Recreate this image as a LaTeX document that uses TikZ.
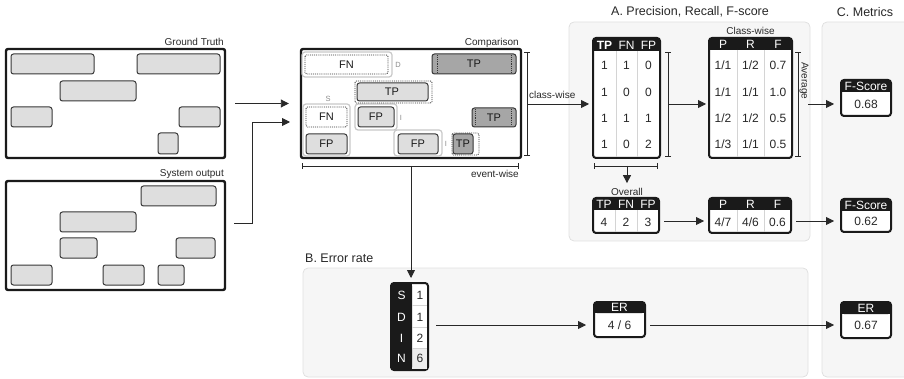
\documentclass[tikz,border=0pt]{standalone}
\usepackage{fontspec}
\setmainfont{Liberation Sans}
\usepackage{tikz}
\usetikzlibrary{arrows.meta,positioning,calc}
\definecolor{FrameBlack}{RGB}{26,26,26}
\definecolor{EventGray}{RGB}{222,222,222}
\definecolor{TPGray}{RGB}{166,166,166}
\definecolor{EdgeGray}{RGB}{55,55,55}
\definecolor{GroupGray}{RGB}{200,200,200}
\definecolor{PanelFill}{RGB}{246,246,246}
\definecolor{PanelLine}{RGB}{224,224,224}
\definecolor{TextGray}{RGB}{40,40,40}
\definecolor{SoftGray}{RGB}{140,140,140}
\definecolor{RuleGray}{RGB}{212,212,212}
\definecolor{CellGray}{RGB}{238,238,238}
\tikzset{
  frame/.style={draw=FrameBlack, line width=2.4pt, rounded corners=2pt, fill=white, inner sep=0pt},
  ev/.style={draw=EdgeGray, line width=1pt, fill=EventGray, rounded corners=2.5pt},
  evtp/.style={ev, fill=TPGray},
  evmiss/.style={draw=EdgeGray, line width=0.9pt, densely dotted, rounded corners=1.5pt},
  grp/.style={draw=GroupGray, line width=1.2pt, rounded corners=3pt, fill=white},
  panel/.style={draw=PanelLine, line width=0.8pt, fill=PanelFill, rounded corners=5pt},
  tab/.style={draw=FrameBlack, line width=2pt, rounded corners=3pt, fill=white, inner sep=0pt},
  rule/.style={draw=RuleGray, line width=0.8pt},
  arr/.style={-{Triangle[length=8pt,width=8pt]}, line width=0.9pt, draw=TextGray},
  brk/.style={{Bar[width=6pt]}-{Bar[width=6pt]}, line width=0.8pt, draw=TextGray},
  lbl/.style={font=\fontsize{10}{12}\selectfont, text=TextGray, inner sep=0pt},
  ttl/.style={font=\fontsize{12.5}{15}\selectfont, text=TextGray, inner sep=0pt},
  evtxt/.style={font=\fontsize{11}{13}\selectfont, text=FrameBlack, inner sep=0pt},
  tick/.style={font=\fontsize{7.5}{9}\selectfont, text=SoftGray, inner sep=0pt},
  head/.style={font=\fontsize{12}{14}\selectfont, text=white, inner sep=0pt},
  val/.style={font=\fontsize{12}{14}\selectfont, text=TextGray, inner sep=0pt},
}
\begin{document}
\begin{tikzpicture}[x=1pt,y=-1pt]
\useasboundingbox (0,0) rectangle (904,379);
% panels
\path[panel] (569,22) rectangle (810,241);
\path[panel] (303,268) rectangle (808,377);
\path[panel] (822,22) rectangle (914,377);
\node[ttl] (ttlA) at (690,12) {A. Precision, Recall, F-score};
\node[ttl, anchor=west] (ttlB) at (305,258) {B. Error rate};
\node[ttl] (ttlC) at (865,12) {C. Metrics};

% ground truth / system output
\node[frame, minimum width=219pt, minimum height=109pt] (gt) at (115.5,103.5) {};
\node[lbl, anchor=base east] (gtname) at (224,46) {Ground Truth};
\foreach \xa/\ya/\xb/\yb in {11/54/94/74, 137/54/220/74, 60/81/136/101, 11/107/52/127, 179/107/220/127, 158/133/178/154}
  \draw[ev] (\xa,\ya) rectangle (\xb,\yb);
\node[frame, minimum width=219pt, minimum height=109pt] (sys) at (115.5,235.5) {};
\node[lbl, anchor=base east] (sysname) at (224,177) {System output};
\foreach \xa/\ya/\xb/\yb in {141/186/216/206, 60/212/136/232, 60/238/97/258, 176/238/215/258, 11/265/52/285, 103/265/144/285, 158/265/184/285}
  \draw[ev] (\xa,\ya) rectangle (\xb,\yb);

% comparison
\node[frame, minimum width=220pt, minimum height=109pt] (cmp) at (411,103.5) {};
\node[lbl, anchor=base east] (cmpname) at (519,46) {Comparison};
\path[grp] (302,52) rectangle (392,77);
\path[grp] (303,104) rectangle (350,156);
\path[grp] (355,104) rectangle (397,130);
\path[grp] (394,130) rectangle (442,156);
\draw[evmiss, fill=white] (305,55) rectangle (388,74);
\node[evtxt] (fn1) at (346.5,64.5) {FN};
\draw[evtp] (432,54) rectangle (516,74);
\draw[evmiss] (437,55) -- (437,73) (511,55) -- (511,73);
\node[evtxt] (tp1) at (474,64) {TP};
\draw[ev] (357,83) rectangle (428,101);
\draw[evmiss] (355,81) rectangle (432,103);
\node[evtxt] (tp2) at (392,92) {TP};
\draw[evmiss, fill=white] (306,107) rectangle (347,127);
\node[evtxt] (fn2) at (326.5,117) {FN};
\draw[ev] (306,134) rectangle (347,154);
\node[evtxt] (fp1) at (326.5,144) {FP};
\draw[ev] (358,107) rectangle (394,127);
\node[evtxt] (fp2) at (376,117) {FP};
\draw[evtp] (472,108) rectangle (516,127);
\draw[evmiss] (475,109) -- (475,126) (511,109) -- (511,126);
\node[evtxt] (tp3) at (494,117.5) {TP};
\draw[ev] (398,134) rectangle (438,154);
\node[evtxt] (fp3) at (418,144) {FP};
\draw[evtp] (453,134) rectangle (473,154);
\draw[evmiss] (452,133) rectangle (479,155);
\node[evtxt] (tp4) at (463,144) {TP};
\node[tick] (tkD) at (398,65) {D};
\node[tick] (tkS) at (328,99) {S};
\node[tick] (tkI1) at (401,118) {I};
\node[tick] (tkI2) at (446,144) {I};

\draw[arr] ([xshift=9pt]gt.east) -- ([xshift=-11pt]cmp.west |- gt.east);
\coordinate (sysout) at (234,223);
\coordinate (cmpin) at (290,122);
\draw[arr] (sysout) -- ++(18,0) |- (cmpin);

\draw[brk] (527,52) -- (527,156);
\draw[brk] (302,166) -- (519,166);
\node[lbl, anchor=east] (ew) at (519,174) {event-wise};
\node[lbl, anchor=west] (cw) at (529,95) {class-wise};
\coordinate (cwfrom) at (527,104);
\coordinate (ewmid) at (411,166);

% A: class-wise counts
\node[tab, minimum width=67pt, minimum height=120pt] (cnt) at (626.5,98) {};
\fill[FrameBlack, rounded corners=3pt] (593,38) rectangle (660,51);
\fill[FrameBlack] (593,45) rectangle (660,51);
\draw[rule] (616,51) -- (616,157) (637,51) -- (637,157);
\node[head, font=\fontsize{12}{14}\selectfont\bfseries] (cnt-h1) at (604.5,45) {TP};
\node[head] (cnt-h2) at (626.5,45) {FN};
\node[head] (cnt-h3) at (648.5,45) {FP};
\foreach \yy/\a/\b/\c [count=\r] in {65/1/1/0, 92/1/0/0, 118/1/1/1, 144/1/0/2} {
  \node[val] (cnt-\r-1) at (604.5,\yy) {\a};
  \node[val] (cnt-\r-2) at (626.5,\yy) {\b};
  \node[val] (cnt-\r-3) at (648.5,\yy) {\c};
}
\draw[arr] (cwfrom) -- ([xshift=-3pt]cnt.west |- cwfrom);
\draw[brk] (668,52) -- (668,157);
\coordinate (cntout) at (668,104);

% A: class-wise P R F
\node[tab, minimum width=83pt, minimum height=120pt] (cls) at (750.5,98) {};
\fill[FrameBlack, rounded corners=3pt] (709,38) rectangle (792,50);
\fill[FrameBlack] (709,44) rectangle (792,50);
\draw[rule] (737,50) -- (737,157) (764,50) -- (764,157);
\node[lbl] (clsname) at (750.5,31) {Class-wise};
\node[head] (cls-h1) at (723,44.5) {P};
\node[head] (cls-h2) at (750.5,44.5) {R};
\node[head] (cls-h3) at (778,44.5) {F};
\foreach \yy/\a/\b/\c [count=\r] in {65/1\slash 1/1\slash 2/0.7, 92/1\slash 1/1\slash 1/1.0, 118/1\slash 2/1\slash 2/0.5, 144/1\slash 3/1\slash 1/0.5} {
  \node[val] (cls-\r-1) at (723,\yy) {\a};
  \node[val] (cls-\r-2) at (750.5,\yy) {\b};
  \node[val] (cls-\r-3) at (778,\yy) {\c};
}
\draw[arr] (cntout) -- ([xshift=-2pt]cls.west |- cntout);
\draw[brk] (798,52) -- (798,157);
\node[lbl, rotate=-90] (avg) at (804,81) {Average};
\coordinate (avgout) at (808,104);

% A: overall
\draw[brk] (594,166) -- (658,166);
\coordinate (ovmid) at (627,166);
\node[lbl] (ovname) at (627,192) {Overall};
\draw[arr] (ovmid) -- ([yshift=5pt]ovname.north);
\node[tab, minimum width=66pt, minimum height=35pt] (ovc) at (626,215.5) {};
\fill[FrameBlack, rounded corners=3pt] (593,198) rectangle (659,210);
\fill[FrameBlack] (593,204) rectangle (659,210);
\draw[rule] (615,210) -- (615,232) (637,210) -- (637,232);
\node[head] (ovc-h1) at (604,204) {TP};
\node[head] (ovc-h2) at (626,204) {FN};
\node[head] (ovc-h3) at (648,204) {FP};
\node[val] (ovc-1) at (604,222) {4};
\node[val] (ovc-2) at (626,222) {2};
\node[val] (ovc-3) at (648,222) {3};
\coordinate (ovrow) at (0,221);
\node[tab, minimum width=82pt, minimum height=35pt] (ovp) at (750,215.5) {};
\fill[FrameBlack, rounded corners=3pt] (709,198) rectangle (791,210);
\fill[FrameBlack] (709,204) rectangle (791,210);
\draw[rule] (737,210) -- (737,232) (764,210) -- (764,232);
\node[head] (ovp-h1) at (723,204) {P};
\node[head] (ovp-h2) at (750.5,204) {R};
\node[head] (ovp-h3) at (777.5,204) {F};
\node[val] (ovp-1) at (723,222) {4/7};
\node[val] (ovp-2) at (750.5,222) {4/6};
\node[val] (ovp-3) at (777.5,222) {0.6};
\draw[arr] ([xshift=4pt]ovc.east |- ovrow) -- ([xshift=-4pt]ovp.west |- ovrow);

% B: error rate
\node[tab, minimum width=37pt, minimum height=87pt] (sdin) at (409.5,326.5) {};
\fill[CellGray] (412,348) rectangle (427,369);
\fill[FrameBlack, rounded corners=3pt] (391,283) rectangle (412,370);
\fill[FrameBlack] (402,283) rectangle (412,370);
\draw[rule] (412,305) -- (427,305) (412,327) -- (427,327) (412,348) -- (427,348);
\foreach \yy/\l/\v [count=\r] in {295/S/1, 317/D/1, 338/I/2, 358/N/6} {
  \node[head] (sdin-\r-l) at (401.5,\yy) {\l};
  \node[val] (sdin-\r-v) at (420,\yy) {\v};
}
\draw[arr] (ewmid) -- ([yshift=4pt]ewmid |- sdin.north);
\coordinate (errow) at (0,325);
\node[tab, minimum width=51pt, minimum height=35pt] (er) at (619.5,319.5) {};
\fill[FrameBlack, rounded corners=3pt] (594,302) rectangle (645,313);
\fill[FrameBlack] (594,308) rectangle (645,313);
\node[head] (er-h) at (619.5,307.5) {ER};
\node[val] (er-v) at (619.5,325) {4 / 6};
\draw[arr] ([xshift=7pt]sdin.east |- errow) -- ([xshift=-7pt]er.west |- errow);

% C: metrics
\node[tab, minimum width=50pt, minimum height=36pt] (m1) at (866,98) {};
\fill[FrameBlack, rounded corners=3pt] (841,80) rectangle (891,92);
\fill[FrameBlack] (841,86) rectangle (891,92);
\node[head] (m1-h) at (866,86) {F-Score};
\node[val] (m1-v) at (866,104) {0.68};
\node[tab, minimum width=50pt, minimum height=33pt] (m2) at (866,215.5) {};
\fill[FrameBlack, rounded corners=3pt] (841,199) rectangle (891,211);
\fill[FrameBlack] (841,205) rectangle (891,211);
\node[head] (m2-h) at (866,205) {F-Score};
\node[val] (m2-v) at (866,221) {0.62};
\node[tab, minimum width=50pt, minimum height=36pt] (m3) at (866,320) {};
\fill[FrameBlack, rounded corners=3pt] (841,302) rectangle (891,314);
\fill[FrameBlack] (841,308) rectangle (891,314);
\node[head] (m3-h) at (866,308) {ER};
\node[val] (m3-v) at (866,325) {0.67};
\draw[arr] (avgout) -- ([xshift=-6pt]m1.west |- avgout);
\draw[arr] ([xshift=4pt]ovp.east |- ovrow) -- ([xshift=-6pt]m2.west |- ovrow);
\draw[arr] ([xshift=4pt]er.east |- errow) -- ([xshift=-6pt]m3.west |- errow);
\end{tikzpicture}
\end{document}
